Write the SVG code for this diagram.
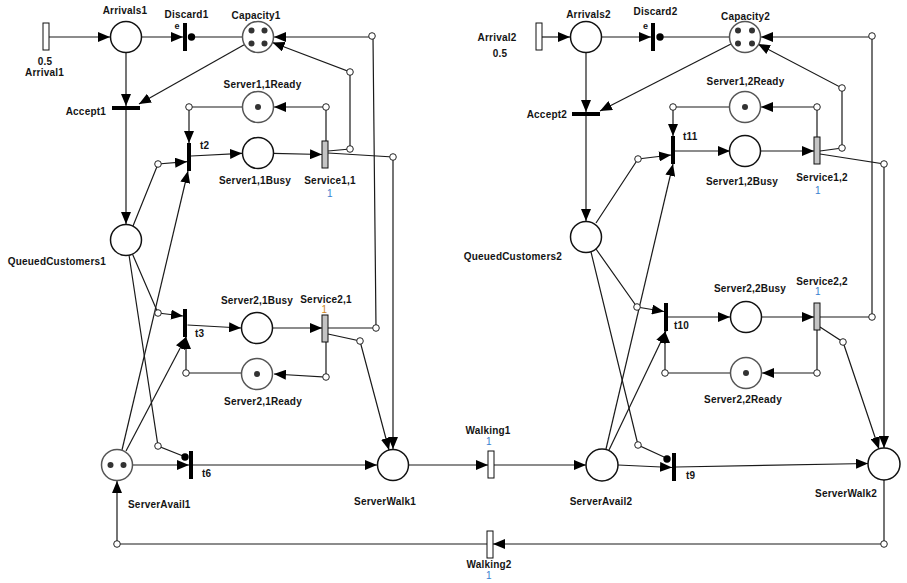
<svg xmlns="http://www.w3.org/2000/svg" width="907" height="583" viewBox="0 0 907 583">
  <defs>
    <marker id="arr" viewBox="0 0 12 10" refX="12" refY="5" markerWidth="12" markerHeight="10" markerUnits="userSpaceOnUse" orient="auto">
      <path d="M0,0 L12,5 L0,10 z" fill="#000"/>
    </marker>
    <style>
      text { font-family: "Liberation Sans", Arial, sans-serif; font-size: 10px; font-weight: bold; fill: #141414; letter-spacing: 0.2px; }
      .m { text-anchor: middle; }
      .r { text-anchor: end; }
      .rate-b { fill: #3a7fd0; font-weight: normal; }
      .rate-o { fill: #d0861a; font-weight: normal; }
      .small { font-size: 9px; }
      .place { fill: #fff; stroke: #111; stroke-width: 1.5; }
      .marked { fill: #fff; stroke: #555; stroke-width: 1.5; }
      .tok { fill: #333; }
      .imm { fill: #000; }
      .timed { fill: #fff; stroke: #111; stroke-width: 1; }
      .svc { fill: #c4c4c4; stroke: #111; stroke-width: 1; }
      .arc { fill: none; stroke: #1a1a1a; stroke-width: 1.2; }
      .arc.a { marker-end: url(#arr); }
      .bend { fill: #fff; stroke: #222; stroke-width: 1; }
      .inh { fill: #000; }
    </style>
  </defs>

  <rect width="907" height="583" fill="#fff"/>

  <!-- connectors -->
  <g id="arcs">
    <!-- left net -->
    <path class="arc a" d="M49,37 H110"/>
    <path class="arc a" d="M141,37 H183"/>
    <path class="arc" d="M242,37 H193"/>
    <path class="arc a" d="M126,53 V106"/>
    <path class="arc a" d="M244.6,44.5 L139,104"/>
    <path class="arc a" d="M126,110 V224"/>
    <path class="arc a" d="M133,226 L158,164 L187,161.7"/>
    <path class="arc a" d="M132,253 L158,313 L183,316"/>
    <path class="arc" d="M129,255 L158,446 L183,456"/>
    <path class="arc a" d="M242,107 H189 V143"/>
    <path class="arc a" d="M122,450 L188,171"/>
    <path class="arc a" d="M191,156 L242,153.3"/>
    <path class="arc a" d="M273,153.3 L322,154.5"/>
    <path class="arc a" d="M326,141 V107 L274,107"/>
    <path class="arc a" d="M328,151 L350,149 V72 L272.5,42.5"/>
    <path class="arc a" d="M328,153 L393,157 V449"/>
    <path class="arc a" d="M126,451 L186,337"/>
    <path class="arc a" d="M187.5,325 L241,328"/>
    <path class="arc a" d="M273,328 H322"/>
    <path class="arc a" d="M328,328 H376 L373,37 H274"/>
    <path class="arc a" d="M328,334 L360,341 L389,450"/>
    <path class="arc a" d="M326,342 V377 L274,374"/>
    <path class="arc a" d="M241,373 L186,373 V337"/>
    <path class="arc a" d="M133,465 H189"/>
    <path class="arc a" d="M193,465 H377"/>
    <path class="arc a" d="M409,465 H488"/>
    <path class="arc a" d="M494,465 H586"/>
    <path class="arc a" d="M487,544 H117 V481"/>

    <!-- right net -->
    <path class="arc a" d="M542,37 H570"/>
    <path class="arc a" d="M602,37 H651"/>
    <path class="arc" d="M729,37 H662"/>
    <path class="arc a" d="M586,53 V112"/>
    <path class="arc a" d="M731,44 L600,111"/>
    <path class="arc a" d="M586,116 V221"/>
    <path class="arc a" d="M596,223 L638,159 L671,155"/>
    <path class="arc a" d="M596,249 L637,307 L664,311.5"/>
    <path class="arc" d="M591,252 L638,445 L664,457"/>
    <path class="arc a" d="M730,107 H673 V136"/>
    <path class="arc a" d="M606,449 L673,164"/>
    <path class="arc a" d="M675,151 H730"/>
    <path class="arc a" d="M761,151 H814"/>
    <path class="arc a" d="M817,137 V107 H761"/>
    <path class="arc a" d="M820,151 L842,148 V88 L758,44"/>
    <path class="arc a" d="M820,154 L884,164 V448"/>
    <path class="arc a" d="M609,450 L666,331"/>
    <path class="arc a" d="M668,317 H730"/>
    <path class="arc a" d="M762,317 H814"/>
    <path class="arc a" d="M820,317 H872 V37 H761"/>
    <path class="arc a" d="M820,327 L843,342 L879,449"/>
    <path class="arc a" d="M817,330 V373 H762"/>
    <path class="arc a" d="M730,373 H665 V331"/>
    <path class="arc a" d="M618,465 L672,467.5"/>
    <path class="arc a" d="M676,467 L868,463.5"/>
    <path class="arc a" d="M884,480 V544 H493"/>

    <!-- inhibitor ends -->
    <circle class="inh" cx="191.5" cy="37" r="3.7"/>
    <circle class="inh" cx="185" cy="457" r="3.7"/>
    <circle class="inh" cx="660" cy="37" r="3.7"/>
    <circle class="inh" cx="667" cy="459" r="3.7"/>

    <!-- bend points -->
    <circle class="bend" cx="158" cy="164" r="3.3"/>
    <circle class="bend" cx="158" cy="313" r="3.3"/>
    <circle class="bend" cx="158" cy="446" r="3.3"/>
    <circle class="bend" cx="189" cy="107" r="3.3"/>
    <circle class="bend" cx="326" cy="107" r="3.3"/>
    <circle class="bend" cx="350" cy="149" r="3.3"/>
    <circle class="bend" cx="350" cy="72" r="3.3"/>
    <circle class="bend" cx="372" cy="36" r="3.3"/>
    <circle class="bend" cx="393" cy="157" r="3.3"/>
    <circle class="bend" cx="376" cy="328" r="3.3"/>
    <circle class="bend" cx="360" cy="341" r="3.3"/>
    <circle class="bend" cx="326" cy="377" r="3.3"/>
    <circle class="bend" cx="186" cy="373" r="3.3"/>
    <circle class="bend" cx="117" cy="544" r="3.3"/>
    <circle class="bend" cx="638" cy="159" r="3.3"/>
    <circle class="bend" cx="637" cy="307" r="3.3"/>
    <circle class="bend" cx="638" cy="445" r="3.3"/>
    <circle class="bend" cx="673" cy="107" r="3.3"/>
    <circle class="bend" cx="817" cy="107" r="3.3"/>
    <circle class="bend" cx="842" cy="148" r="3.3"/>
    <circle class="bend" cx="842" cy="88" r="3.3"/>
    <circle class="bend" cx="872" cy="36" r="3.3"/>
    <circle class="bend" cx="884" cy="164" r="3.3"/>
    <circle class="bend" cx="872" cy="317" r="3.3"/>
    <circle class="bend" cx="843" cy="342" r="3.3"/>
    <circle class="bend" cx="817" cy="373" r="3.3"/>
    <circle class="bend" cx="665" cy="373" r="3.3"/>
    <circle class="bend" cx="884" cy="544" r="3.3"/>
  </g>

  <!-- left net: places -->
  <g id="Arrivals1"><circle class="place" cx="126" cy="37" r="15.5"/><text class="m" x="125" y="13.5">Arrivals1</text></g>
  <g id="Capacity1"><circle class="marked" cx="258" cy="37" r="15.5"/>
    <circle class="tok" cx="251.5" cy="30.5" r="3"/><circle class="tok" cx="264.5" cy="30.5" r="3"/>
    <circle class="tok" cx="251.5" cy="43.5" r="3"/><circle class="tok" cx="264.5" cy="43.5" r="3"/>
    <text class="m" x="256" y="18.5">Capacity1</text></g>
  <g id="QueuedCustomers1"><circle class="place" cx="126" cy="240" r="15.5"/><text class="r" x="106" y="265">QueuedCustomers1</text></g>
  <g id="Server11Ready"><circle class="marked" cx="258" cy="107" r="15.5"/><circle class="tok" cx="258" cy="107" r="3"/><text class="m" x="262.5" y="87.5">Server1,1Ready</text></g>
  <g id="Server11Busy"><circle class="place" cx="258" cy="153" r="15.5"/><text class="m" x="255" y="183.5">Server1,1Busy</text></g>
  <g id="Server21Busy"><circle class="place" cx="257" cy="328" r="15.5"/><text class="m" x="257" y="304">Server2,1Busy</text></g>
  <g id="Server21Ready"><circle class="marked" cx="257" cy="374" r="15.5"/><circle class="tok" cx="257" cy="374" r="3"/><text class="m" x="263" y="405">Server2,1Ready</text></g>
  <g id="ServerAvail1"><circle class="marked" cx="117" cy="465" r="15.5"/>
    <circle class="tok" cx="110.5" cy="465" r="3"/><circle class="tok" cx="123.5" cy="465" r="3"/>
    <text x="128" y="507.5">ServerAvail1</text></g>
  <g id="ServerWalk1"><circle class="place" cx="393" cy="465" r="15.5"/><text class="m" x="385" y="505">ServerWalk1</text></g>

  <!-- left net: transitions -->
  <g id="Arrival1"><rect class="timed" x="43" y="23" width="6" height="27"/><text class="m" x="45" y="65">0.5</text><text class="m" x="44.5" y="76">Arrival1</text></g>
  <g id="Discard1"><rect class="imm" x="183" y="23" width="4" height="28"/><text class="m" x="186.5" y="17.5">Discard1</text><text class="m small" x="177" y="28.5">e</text></g>
  <g id="Accept1"><rect class="imm" x="112" y="106" width="28" height="4"/><text class="r" x="106" y="115">Accept1</text></g>
  <g id="t2"><rect class="imm" x="187" y="143" width="4" height="28"/><text x="200" y="149">t2</text></g>
  <g id="Service11"><rect class="svc" x="322" y="141" width="6" height="27"/><text class="m" x="330" y="183.5">Service1,1</text><text class="m rate-b" x="330" y="196.5">1</text></g>
  <g id="t3"><rect class="imm" x="183" y="309" width="4" height="28"/><text x="195" y="337">t3</text></g>
  <g id="Service21"><rect class="svc" x="322" y="315" width="6" height="27"/><text class="m" x="326" y="303">Service2,1</text><text class="m rate-o" x="324.5" y="313">1</text></g>
  <g id="t6"><rect class="imm" x="189" y="451" width="4" height="28"/><text x="202" y="477">t6</text></g>
  <g id="Walking1"><rect class="timed" x="488" y="451" width="6" height="27"/><text class="m" x="488" y="433.5">Walking1</text><text class="m rate-b" x="489" y="444.5">1</text></g>
  <g id="Walking2"><rect class="timed" x="487" y="531" width="6" height="27"/><text class="m" x="489" y="568">Walking2</text><text class="m rate-b" x="489" y="579">1</text></g>

  <!-- right net: places -->
  <g id="Arrivals2"><circle class="place" cx="586" cy="37" r="15.5"/><text class="m" x="588.5" y="17.5">Arrivals2</text></g>
  <g id="Capacity2"><circle class="marked" cx="745" cy="37" r="15.5"/>
    <circle class="tok" cx="738" cy="30.5" r="3"/><circle class="tok" cx="752" cy="30.5" r="3"/>
    <circle class="tok" cx="738" cy="43.5" r="3"/><circle class="tok" cx="752" cy="43.5" r="3"/>
    <text class="m" x="745.5" y="20">Capacity2</text></g>
  <g id="QueuedCustomers2"><circle class="place" cx="586" cy="237" r="15.5"/><text class="r" x="562" y="259.5">QueuedCustomers2</text></g>
  <g id="Server12Ready"><circle class="marked" cx="745" cy="107" r="15.5"/><circle class="tok" cx="745" cy="107" r="3"/><text class="m" x="745.5" y="85">Server1,2Ready</text></g>
  <g id="Server12Busy"><circle class="place" cx="745" cy="151" r="15.5"/><text class="m" x="742" y="185">Server1,2Busy</text></g>
  <g id="Server22Busy"><circle class="place" cx="746" cy="317" r="15.5"/><text class="m" x="750" y="292">Server2,2Busy</text></g>
  <g id="Server22Ready"><circle class="marked" cx="746" cy="373" r="15.5"/><circle class="tok" cx="746" cy="373" r="3"/><text class="m" x="743" y="403">Server2,2Ready</text></g>
  <g id="ServerAvail2"><circle class="place" cx="602" cy="465" r="16"/><text class="m" x="601" y="505">ServerAvail2</text></g>
  <g id="ServerWalk2"><circle class="place" cx="884" cy="464" r="16"/><text class="m" x="846" y="497">ServerWalk2</text></g>

  <!-- right net: transitions -->
  <g id="Arrival2"><rect class="timed" x="536" y="23" width="6" height="27"/><text class="m" x="497" y="41">Arrival2</text><text class="m" x="500" y="57">0.5</text></g>
  <g id="Discard2"><rect class="imm" x="651" y="23" width="4" height="28"/><text class="m" x="655.5" y="15">Discard2</text><text class="m small" x="645.5" y="29">e</text></g>
  <g id="Accept2"><rect class="imm" x="572" y="112" width="28" height="4"/><text class="r" x="567" y="117.5">Accept2</text></g>
  <g id="t11"><rect class="imm" x="671" y="136" width="4" height="28"/><text x="683" y="140">t11</text></g>
  <g id="Service12"><rect class="svc" x="814" y="137" width="6" height="27"/><text class="m" x="822" y="181">Service1,2</text><text class="m rate-b" x="818" y="193.5">1</text></g>
  <g id="t10"><rect class="imm" x="664" y="303" width="4" height="28"/><text x="674" y="329">t10</text></g>
  <g id="Service22"><rect class="svc" x="814" y="303" width="6" height="27"/><text class="m" x="822" y="285">Service2,2</text><text class="m rate-b" x="818" y="295">1</text></g>
  <g id="t9"><rect class="imm" x="672" y="453" width="4" height="28"/><text x="686" y="479">t9</text></g>
</svg>
